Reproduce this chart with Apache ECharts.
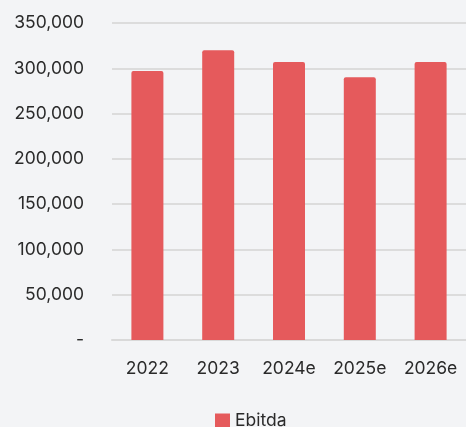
<!DOCTYPE html>
<html>
<head>
<meta charset="utf-8">
<script src="https://cdn.jsdelivr.net/npm/echarts@6/dist/echarts.min.js"></script>
<style>
html,body{margin:0;padding:0;background:#f3f4f6;}
#c{width:466px;height:427px;}
</style>
</head>
<body>
<div id="c"></div>
<script>
const categories = ['2022', '2023', '2024e', '2025e', '2026e'];
const ebitda = [297000, 320000, 307000, 290000, 307000];
const seriesName = 'Ebitda';

const chart = echarts.init(document.getElementById('c'), null, {renderer: 'canvas'});
chart.setOption({
  backgroundColor: '#f3f4f6',
  animation: false,
  textStyle: {fontFamily: 'Inter, "Noto Sans", sans-serif'},
  grid: {left: 112, right: -5, top: 23, bottom: 87, containLabel: false},
  legend: {
    data: [seriesName],
    bottom: -8,
    left: 210,
    itemWidth: 15,
    itemHeight: 15,
    itemGap: 4,
    textStyle: {fontSize: 17.5, color: '#2a2a2a'},
    icon: 'rect'
  },
  xAxis: {
    type: 'category',
    data: categories,
    axisLine: {show: true, lineStyle: {color: '#d9d9d9', width: 2}},
    axisTick: {show: false},
    axisLabel: {fontSize: 17.5, color: '#2a2a2a', margin: 20}
  },
  yAxis: {
    type: 'value',
    min: 0,
    max: 350000,
    interval: 50000,
    axisLine: {show: false},
    axisTick: {show: false},
    splitLine: {lineStyle: {color: '#dcdcdc', width: 2}},
    axisLabel: {
      fontSize: 17.5,
      color: '#2a2a2a',
      margin: 28,
      formatter: function (v) { return v === 0 ? '-' : v.toLocaleString('en-US'); }
    }
  },
  series: [{
    name: seriesName,
    type: 'bar',
    data: ebitda,
    barWidth: 32,
    itemStyle: {color: '#e55a5c', borderRadius: [2, 2, 0, 0]}
  }]
});
</script>
</body>
</html>
